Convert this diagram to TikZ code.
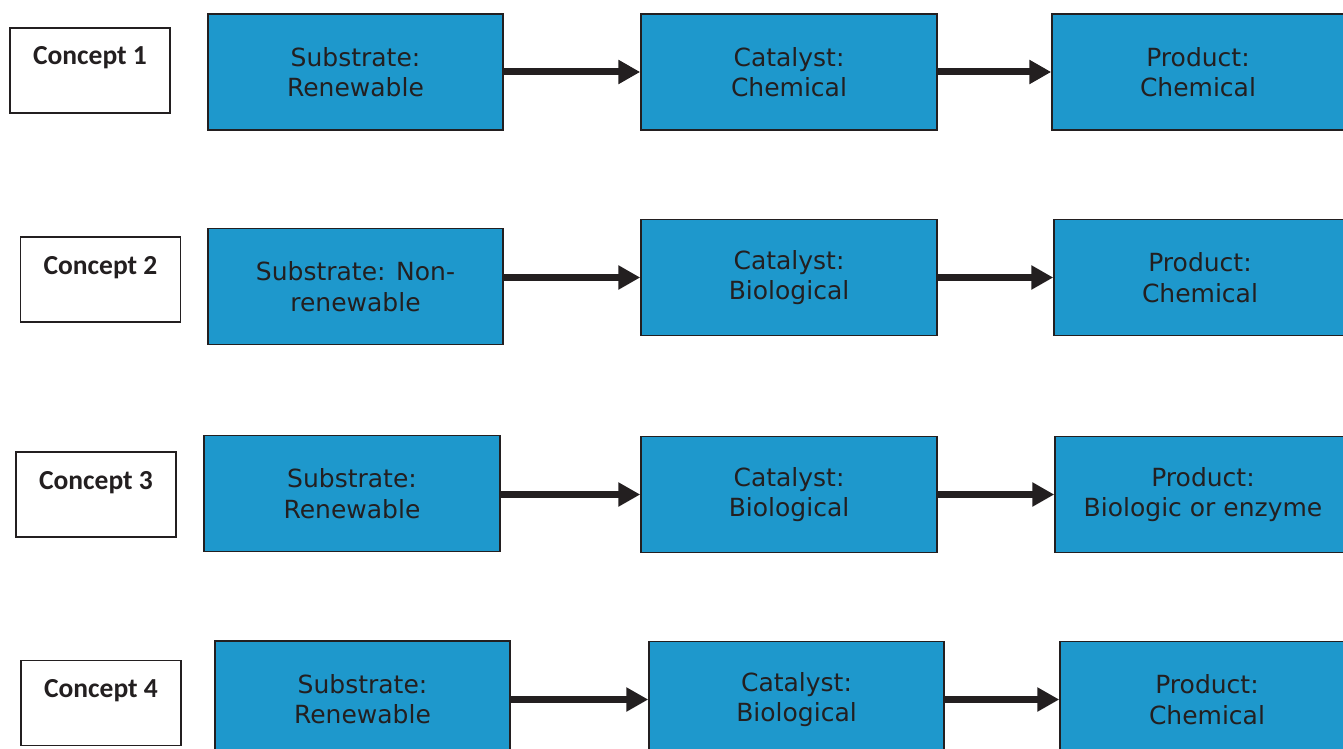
\documentclass[tikz,border=0pt]{standalone}
\usepackage{fontspec}
\setmainfont{DejaVu Sans}
\newfontfamily\conceptfont{Carlito}
\usetikzlibrary{arrows.meta}
\definecolor{boxblue}{HTML}{1E98CC}
\definecolor{inkgray}{HTML}{231F20}
\tikzset{
  stagebox/.style={draw=inkgray, line width=1.5pt, fill=boxblue, text=inkgray, align=center,
    minimum height=116pt, inner sep=0pt, font=\fontsize{25}{30.5}\selectfont},
  conceptbox/.style={draw=inkgray, line width=1.5pt, fill=white, text=inkgray,
    minimum width=160pt, minimum height=85pt, inner sep=0pt, text height=20pt, text depth=31pt,
    font=\conceptfont\bfseries\fontsize{27.5}{30}\selectfont},
  flow/.style={draw=inkgray, line width=7pt, -{Triangle[length=22pt,width=23pt]}}
}
\begin{document}
\begin{tikzpicture}[x=1pt,y=-1pt]
  \useasboundingbox (0,0) rectangle (1343,749);

  \node[conceptbox] (con1) at (90,70.5) {Concept 1};
  \node[stagebox, minimum width=295pt] (sub1) at (355.5,72) {Substrate:\\Renewable};
  \node[stagebox, minimum width=296pt] (cat1) at (789,72) {Catalyst:\\Chemical};
  \node[stagebox, minimum width=292pt] (prod1) at (1198,72) {Product:\\Chemical};
  \draw[flow] (sub1.east |- cat1.west) -- (cat1.west);
  \draw[flow] (cat1.east) -- (prod1.west);

  \node[conceptbox] (con2) at (100.5,279.5) {Concept 2};
  \node[stagebox, minimum width=295pt] (sub2) at (355.5,286.5) {Substrate: Non-\\renewable};
  \node[stagebox, minimum width=296pt] (cat2) at (789,277.5) {Catalyst:\\Biological};
  \node[stagebox, minimum width=292pt] (prod2) at (1200,277.5) {Product:\\Chemical};
  \draw[flow] (sub2.east |- cat2.west) -- (cat2.west);
  \draw[flow] (cat2.east) -- (prod2.west);

  \node[conceptbox] (con3) at (96,494.5) {Concept 3};
  \node[stagebox, minimum width=296pt] (sub3) at (352,493.5) {Substrate:\\Renewable};
  \node[stagebox, minimum width=296pt] (cat3) at (789,494.5) {Catalyst:\\Biological};
  \node[stagebox, minimum width=296pt] (prod3) at (1203,494.5) {Product:\\Biologic or enzyme};
  \draw[flow] (sub3.east |- cat3.west) -- (cat3.west);
  \draw[flow] (cat3.east) -- (prod3.west);

  \node[conceptbox] (con4) at (101,703) {Concept 4};
  \node[stagebox, minimum width=295pt] (sub4) at (362.5,699) {Substrate:\\Renewable};
  \node[stagebox, minimum width=295pt] (cat4) at (796.5,699.5) {Catalyst:\\Biological};
  \node[stagebox, minimum width=294pt] (prod4) at (1207,699.5) {Product:\\Chemical};
  \draw[flow] (sub4.east |- cat4.west) -- (cat4.west);
  \draw[flow] (cat4.east) -- (prod4.west);
\end{tikzpicture}
\end{document}
